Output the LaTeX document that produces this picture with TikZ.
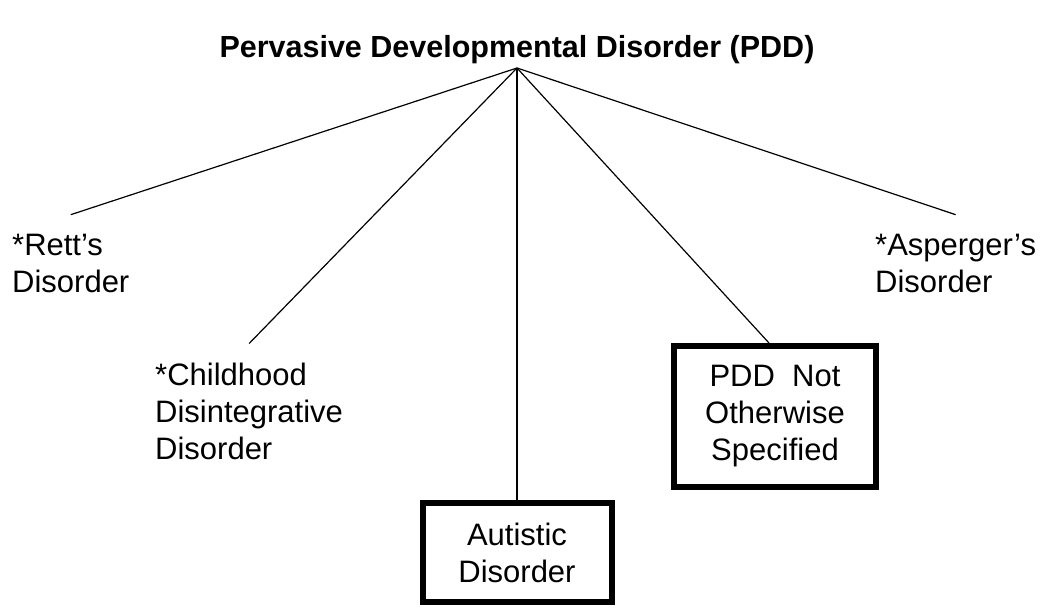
\documentclass[tikz,border=0pt]{standalone}
\usepackage{fontspec}
\setmainfont{Liberation Sans}
\usepackage{tikz}

\begin{document}
\begin{tikzpicture}[x=1pt,y=-1pt,
	every node/.style={inner sep=0pt,font=\fontsize{31}{37}\selectfont},
	leaf/.style={anchor=base west,align=left,outer ysep=19pt},
	framebox/.style={draw,line width=6pt,align=center},
	branch/.style={line width=1.2pt}]
	\useasboundingbox (0,0) rectangle (1044,608);
	\node[anchor=base,font=\fontsize{30.5}{36}\selectfont\bfseries] (title) at (517,57) {Pervasive Developmental Disorder (PDD)};
	\coordinate (apex) at (517,68);
	\node[leaf] (rett) at (12,292) {*Rett's\\Disorder};
	\node[leaf] (child) at (155,459) {*Childhood\\Disintegrative\\Disorder};
	\node[leaf] (asperger) at (875,292) {*Asperger's\\Disorder};
	\node[framebox,minimum width=189pt,minimum height=99pt] (autistic) at (517,552.5) {Autistic\\Disorder};
	\node[framebox,minimum width=202pt,minimum height=141pt] (pdd) at (775,416.5) {PDD\ \ Not\\Otherwise\\Specified};
		\draw[branch] (apex) -- (rett.north);
		\draw[branch] (apex) -- (child.north);
		\draw[line width=2.5pt] (apex) -- (autistic.north);
		\draw[branch] (apex) -- ([xshift=-6pt]pdd.north);
		\draw[branch] (apex) -- (asperger.north);
\end{tikzpicture}
\end{document}
